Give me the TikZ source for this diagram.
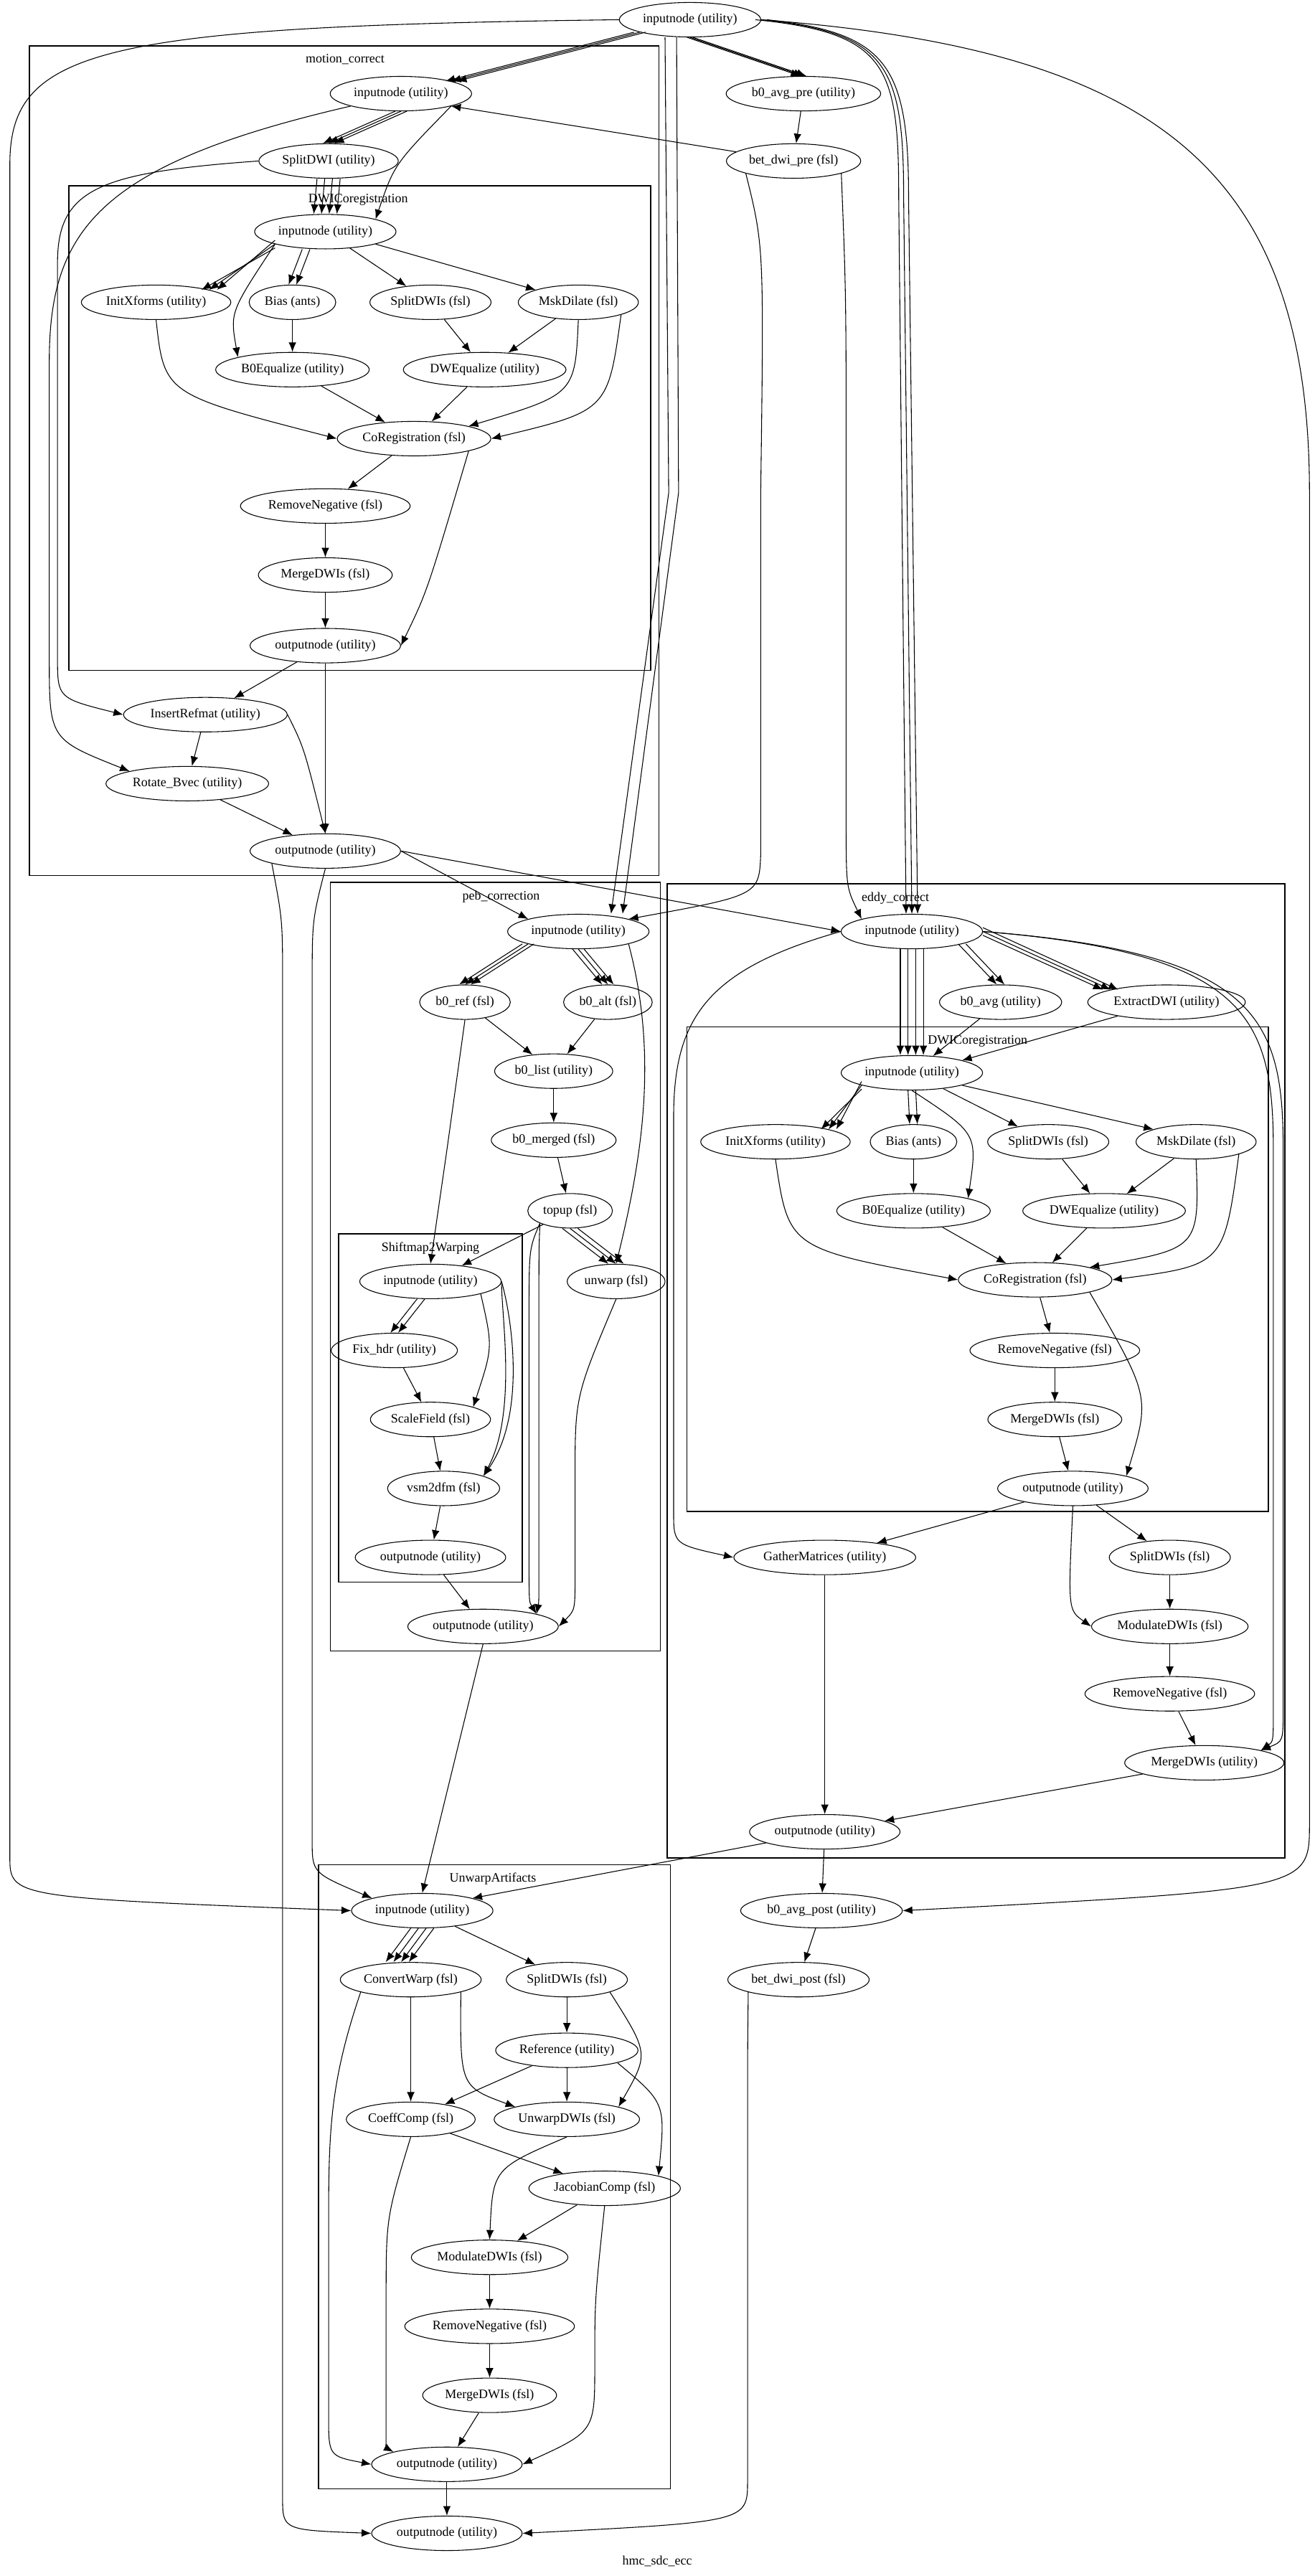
\documentclass[tikz,border=0pt]{standalone}
\usepackage{fontspec}
\setmainfont{Liberation Serif}
\usetikzlibrary{shapes.geometric,arrows.meta}

\begin{document}
\begin{tikzpicture}[x=0.03cm, y=-0.03cm, ->, >={Latex[length=5pt,width=4pt]},
    every node/.style={font=\fontsize{6.7}{8}\selectfont},
    proc/.style={draw, ellipse, inner xsep=1.5pt, inner ysep=0pt, minimum height=0.63cm},
    cluster/.style={draw, line width=0.6pt, -},
    clabel/.style={anchor=north}
]
\useasboundingbox (0,0) rectangle (800,1568);

% clusters
\draw[cluster] (18,28) rectangle (401,533);
\node[clabel] at (210,29) {motion\_correct};
\draw[cluster] (42,113) rectangle (396,408);
\node[clabel] at (218,114) {DWICoregistration};
\draw[cluster] (201,537) rectangle (402,1005);
\node[clabel] at (305,538) {peb\_correction};
\draw[cluster] (206,751) rectangle (318,963);
\node[clabel] at (262,752) {Shiftmap2Warping};
\draw[cluster] (406,538) rectangle (782,1131);
\node[clabel] at (545,539) {eddy\_correct};
\draw[cluster] (418,625) rectangle (772,920);
\node[clabel] at (595,626) {DWICoregistration};
\draw[cluster] (194,1135) rectangle (408,1515);
\node[clabel] at (300,1136) {UnwarpArtifacts};
\node at (400,1559) {hmc\_sdc\_ecc};

% top level
\node[proc] (in0) at (420,12) {inputnode (utility)};
\node[proc] (b0avgpre) at (489,57) {b0\_avg\_pre (utility)};
\node[proc] (betpre) at (483,98) {bet\_dwi\_pre (fsl)};

% motion_correct
\node[proc] (mcin) at (244,57) {inputnode (utility)};
\node[proc] (mcsplit) at (200,98) {SplitDWI (utility)};
\node[proc] (mccin) at (198,141) {inputnode (utility)};
\node[proc] (mcinitx) at (95,184) {InitXforms (utility)};
\node[proc] (mcbias) at (178,184) {Bias (ants)};
\node[proc] (mcsplitdwis) at (262,184) {SplitDWIs (fsl)};
\node[proc] (mcmsk) at (352,184) {MskDilate (fsl)};
\node[proc] (mcbzeq) at (178,225) {B0Equalize (utility)};
\node[proc] (mcdweq) at (295,225) {DWEqualize (utility)};
\node[proc] (mccoreg) at (252,267) {CoRegistration (fsl)};
\node[proc] (mcrmneg) at (198,308) {RemoveNegative (fsl)};
\node[proc] (mcmerge) at (198,350) {MergeDWIs (fsl)};
\node[proc] (mccout) at (198,393) {outputnode (utility)};
\node[proc] (mcinsert) at (125,435) {InsertRefmat (utility)};
\node[proc] (mcrot) at (114,477) {Rotate\_Bvec (utility)};
\node[proc] (mcout) at (198,518) {outputnode (utility)};

% peb_correction
\node[proc] (pein) at (352,567) {inputnode (utility)};
\node[proc] (peref) at (283,610) {b0\_ref (fsl)};
\node[proc] (pealt) at (370,610) {b0\_alt (fsl)};
\node[proc] (pelist) at (337,652) {b0\_list (utility)};
\node[proc] (pemerged) at (337,694) {b0\_merged (fsl)};
\node[proc] (petopup) at (347,737) {topup (fsl)};
\node[proc] (peunwarp) at (375,780) {unwarp (fsl)};
\node[proc] (swin) at (262,780) {inputnode (utility)};
\node[proc] (swfix) at (240,822) {Fix\_hdr (utility)};
\node[proc] (swscale) at (262,864) {ScaleField (fsl)};
\node[proc] (swvsm) at (270,906) {vsm2dfm (fsl)};
\node[proc] (swout) at (262,948) {outputnode (utility)};
\node[proc] (peout) at (294,990) {outputnode (utility)};

% eddy_correct
\node[proc] (ecin) at (555,567) {inputnode (utility)};
\node[proc] (ecbzavg) at (609,610) {b0\_avg (utility)};
\node[proc] (ecextract) at (710,610) {ExtractDWI (utility)};
\node[proc] (eccin) at (555,653) {inputnode (utility)};
\node[proc] (ecinitx) at (472,695) {InitXforms (utility)};
\node[proc] (ecbias) at (556,695) {Bias (ants)};
\node[proc] (ecsplitdwis) at (638,695) {SplitDWIs (fsl)};
\node[proc] (ecmsk) at (728,695) {MskDilate (fsl)};
\node[proc] (ecbzeq) at (556,737) {B0Equalize (utility)};
\node[proc] (ecdweq) at (672,737) {DWEqualize (utility)};
\node[proc] (eccoreg) at (630,779) {CoRegistration (fsl)};
\node[proc] (ecrmneg) at (642,822) {RemoveNegative (fsl)};
\node[proc] (ecmerge) at (642,864) {MergeDWIs (fsl)};
\node[proc] (eccout) at (653,906) {outputnode (utility)};
\node[proc] (ecgather) at (502,948) {GatherMatrices (utility)};
\node[proc] (ecsplit) at (712,948) {SplitDWIs (fsl)};
\node[proc] (ecmod) at (712,990) {ModulateDWIs (fsl)};
\node[proc] (ecrmnegb) at (712,1031) {RemoveNegative (fsl)};
\node[proc] (ecmergeb) at (733,1073) {MergeDWIs (utility)};
\node[proc] (ecout) at (502,1115) {outputnode (utility)};

\node[proc] (bzavgpost) at (500,1163) {b0\_avg\_post (utility)};
\node[proc] (betpost) at (486,1205) {bet\_dwi\_post (fsl)};

% UnwarpArtifacts
\node[proc] (uain) at (257,1163) {inputnode (utility)};
\node[proc] (uaconv) at (250,1205) {ConvertWarp (fsl)};
\node[proc] (uasplit) at (345,1205) {SplitDWIs (fsl)};
\node[proc] (uaref) at (345,1248) {Reference (utility)};
\node[proc] (uacoeff) at (250,1290) {CoeffComp (fsl)};
\node[proc] (uaunwarp) at (345,1290) {UnwarpDWIs (fsl)};
\node[proc] (uajac) at (368,1332) {JacobianComp (fsl)};
\node[proc] (uamod) at (298,1374) {ModulateDWIs (fsl)};
\node[proc] (uarmneg) at (298,1416) {RemoveNegative (fsl)};
\node[proc] (uamerge) at (298,1458) {MergeDWIs (fsl)};
\node[proc] (uaout) at (272,1500) {outputnode (utility)};
\node[proc] (out) at (272,1542) {outputnode (utility)};

% top level edges
\foreach \d in {-3,0,3} {
  \draw ([xshift=\d]in0.south west) -- ([xshift=\d]mcin.north east);
  \draw ([xshift=\d*0.5]in0.south) -- ([xshift=\d*0.5]b0avgpre.north);
  \draw ([xshift=\d]in0.east) .. controls (540,20) and (550+\d,40) .. (550+\d,120) -- ([xshift=\d]ecin.north);
}
\foreach \d in {-3,3}
  \draw ([xshift=\d-10]in0.south) -- (410+\d,300) -- ([xshift=\d+20]pein.north);
\draw (in0.west) .. controls (60,16) and (6,30) .. (6,100) -- (6,1130) .. controls (6,1155) .. (uain.west);
\draw (in0.east) .. controls (700,30) and (797,100) .. (797,300) -- (797,1110) .. controls (797,1150) .. (bzavgpost.east);
\draw (b0avgpre) -- (betpre);
\draw (betpre) -- (mcin.south east);
\draw (betpre.south west) .. controls (465,150) .. (463,300) -- (463,520) .. controls (462,545) .. (pein.north east);
\draw (betpre.south east) .. controls (515,180) .. (515,300) -- (515,500) .. controls (515,540) .. (ecin.north west);

% motion_correct edges
\foreach \d in {-3,0,3}
  \draw ([xshift=\d]mcin.south) -- ([xshift=\d]mcsplit.north);
\draw (mcin.south east) .. controls (240,100) .. (mccin.north east);
\draw (mcin.south west) .. controls (60,100) and (30,140) .. (30,220) -- (30,400) .. controls (30,450) .. (mcrot.north west);
\foreach \d in {-6,-2,2,6}
  \draw ([xshift=\d]mcsplit.south) -- ([xshift=\d]mccin.north);
\draw (mcsplit.west) .. controls (60,105) and (35,115) .. (35,160) -- (35,400) .. controls (35,425) .. (mcinsert.west);
\foreach \d in {-2,0,2}
  \draw ([yshift=\d]mccin.south west) -- ([xshift=\d*2]mcinitx.north east);
\foreach \d in {-2,2}
  \draw ([xshift=\d-10]mccin.south) -- ([xshift=\d]mcbias.north);
\draw (mccin) -- (mcsplitdwis);
\draw (mccin.south east) -- (mcmsk.north west);
\draw (mccin.south west) .. controls (140,190) .. (mcbzeq.north west);
\draw (mcinitx.south) .. controls (100,240) .. (mccoreg.west);
\draw (mcbias) -- (mcbzeq);
\draw (mcsplitdwis) -- (mcdweq);
\draw (mcmsk) -- (mcdweq);
\draw (mcmsk.south) .. controls (350,240) .. (mccoreg.north east);
\draw (mcmsk.south east) .. controls (370,250) .. (mccoreg.east);
\draw (mcbzeq) -- (mccoreg);
\draw (mcdweq) -- (mccoreg);
\draw (mccoreg) -- (mcrmneg);
\draw (mccoreg.south east) .. controls (260,360) .. (mccout.east);
\draw (mcrmneg) -- (mcmerge);
\draw (mcmerge) -- (mccout);
\draw (mccout) -- (mcinsert);
\draw (mccout.south) -- (mcout.north);
\draw (mcinsert) -- (mcrot);
\draw (mcinsert.east) .. controls (185,455) .. (mcout.north);
\draw (mcrot) -- (mcout);
\draw (mcout.east) -- (pein.north west);
\draw (mcout.east) -- (ecin.west);
\draw (mcout.south) .. controls (190,560) .. (190,600) -- (190,1120) .. controls (190,1140) .. (uain.north west);
\draw (mcout.south west) .. controls (172,560) .. (172,600) -- (172,1520) .. controls (172,1540) .. (out.west);

% peb_correction edges
\foreach \d in {-3,0,3} {
  \draw ([xshift=\d]pein.south west) -- ([xshift=\d]peref.north);
  \draw ([xshift=\d]pein.south) -- ([xshift=\d]pealt.north);
}
\draw (pein.south east) .. controls (400,640) and (392,700) .. (peunwarp.north);
\draw (peref) -- (pelist);
\draw (pealt) -- (pelist);
\draw (peref.south) -- (272,700) -- (swin.north);
\draw (pelist) -- (pemerged);
\draw (pemerged) -- (petopup);
\draw (petopup) -- (swin);
\foreach \d in {-4,0,4}
  \draw ([xshift=\d]petopup.south) -- ([xshift=\d]peunwarp.north);
\foreach \d in {-3,3}
  \draw (petopup.south west) .. controls (325+\d,760) .. (325+\d,800) -- (325+\d,950) .. controls (325+\d,975) .. (peout.north east);
\foreach \d in {-2,2}
  \draw ([xshift=\d-5]swin.south) -- ([xshift=\d]swfix.north);
\draw (swin.south east) .. controls (300,820) .. (swscale.north east);
\foreach \d in {0,6}
  \draw (swin.east) .. controls (305+\d,800) and (315+\d,860) .. (swvsm.north east);
\draw (swfix) -- (swscale);
\draw (swscale) -- (swvsm);
\draw (swvsm) -- (swout);
\draw (swout) -- (peout);
\draw (peunwarp.south) .. controls (350,850) .. (350,900) -- (350,960) .. controls (350,980) .. (peout.east);
\draw (peout.south) -- (uain.north);

% eddy_correct edges
\foreach \d in {-6,-2,2,6}
  \draw ([xshift=\d]ecin.south) -- ([xshift=\d]eccin.north);
\foreach \d in {-2,2}
  \draw ([xshift=\d]ecin.south east) -- ([xshift=\d]ecbzavg.north);
\foreach \d in {-2,0,2}
  \draw ([yshift=\d]ecin.east) -- ([xshift=\d*2]ecextract.north west);
\draw (ecbzavg) -- (eccin);
\draw (ecextract) -- (eccin.north east);
\draw (ecin.west) .. controls (430,590) and (410,620) .. (410,680) -- (410,920) .. controls (410,940) .. (ecgather.west);
\foreach \d in {0,6}
  \draw (ecin.east) .. controls (760+\d,580) and (775+\d,620) .. (775+\d,700) -- (775+\d,1040) .. controls (775+\d,1060) .. (ecmergeb.north east);
\foreach \d in {-2,0,2}
  \draw ([yshift=\d]eccin.south west) -- ([xshift=\d*2]ecinitx.north east);
\foreach \d in {-2,2}
  \draw ([xshift=\d]eccin.south) -- ([xshift=\d]ecbias.north);
\draw (eccin) -- (ecsplitdwis);
\draw (eccin.south east) -- (ecmsk.north west);
\draw (eccin.south) .. controls (595,690) .. (ecbzeq.north east);
\draw (ecinitx.south) .. controls (480,760) .. (eccoreg.west);
\draw (ecbias) -- (ecbzeq);
\draw (ecsplitdwis) -- (ecdweq);
\draw (ecmsk) -- (ecdweq);
\draw (ecmsk.south) .. controls (730,760) .. (eccoreg.north east);
\draw (ecmsk.south east) .. controls (745,770) .. (eccoreg.east);
\draw (ecbzeq) -- (eccoreg);
\draw (ecdweq) -- (eccoreg);
\draw (eccoreg) -- (ecrmneg);
\draw (eccoreg.south east) .. controls (700,850) .. (eccout.north east);
\draw (ecrmneg) -- (ecmerge);
\draw (ecmerge) -- (eccout);
\draw (eccout) -- (ecgather);
\draw (eccout) -- (ecsplit);
\draw (eccout.south) .. controls (650,980) .. (ecmod.west);
\draw (ecsplit) -- (ecmod);
\draw (ecmod) -- (ecrmnegb);
\draw (ecrmnegb) -- (ecmergeb);
\draw (ecmergeb) -- (ecout);
\draw (ecgather) -- (ecout);
\draw (ecout) -- (uain.north east);
\draw (ecout) -- (bzavgpost);
\draw (bzavgpost) -- (betpost);
\draw (betpost.south west) .. controls (455,1250) .. (455,1300) -- (455,1510) .. controls (455,1535) .. (out.east);

% UnwarpArtifacts edges
\foreach \d in {-6,-2,2,6}
  \draw ([xshift=\d]uain.south) -- ([xshift=\d-7]uaconv.north);
\draw (uain) -- (uasplit);
\draw (uaconv) -- (uacoeff);
\draw (uaconv.south east) .. controls (280,1270) .. (uaunwarp.north west);
\draw (uaconv.south west) .. controls (200,1270) and (200,1300) .. (200,1360) -- (200,1470) .. controls (200,1495) .. (uaout.west);
\draw (uasplit) -- (uaref);
\draw (uasplit.south east) .. controls (395,1250) .. (uaunwarp.north east);
\draw (uaref) -- (uacoeff);
\draw (uaref) -- (uaunwarp);
\draw (uaref.south east) .. controls (405,1280) .. (uajac.north east);
\draw (uacoeff) -- (uajac);
\draw (uacoeff.south) .. controls (235,1350) .. (235,1400) -- (235,1470) .. controls (235,1490) .. (uaout.north west);
\draw (uaunwarp.south) .. controls (300,1320) .. (uamod.north);
\draw (uajac) -- (uamod);
\draw (uajac.south) .. controls (362,1400) .. (362,1440) .. controls (362,1480) .. (uaout.east);
\draw (uamod) -- (uarmneg);
\draw (uarmneg) -- (uamerge);
\draw (uamerge) -- (uaout);
\draw (uaout) -- (out);
\end{tikzpicture}
\end{document}
